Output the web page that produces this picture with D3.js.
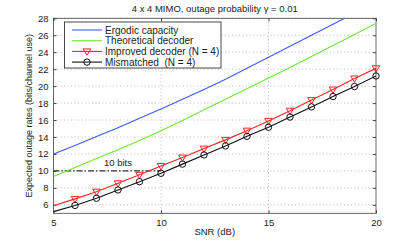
<!DOCTYPE html>
<html>
<head>
<meta charset="utf-8">
<script src="https://cdn.jsdelivr.net/npm/d3@7"></script>
<style>
  body { margin: 0; background: #fff; }
  svg { font-family: "Liberation Sans", Arial, sans-serif; }
  .grid line { stroke: #bbb; stroke-dasharray: 1,2.5; }
  text { white-space: pre; }
</style>
</head>
<body>
<div id="corpo"></div>
<script>
// values
var snr = [5, 6, 7, 8, 9, 10, 11, 12, 13, 14, 15, 16, 17, 18, 19, 20];
var ergodic = [12.0, 13.0, 14.05, 15.1, 16.2, 17.3, 18.45, 19.6, 20.8, 22.1, 23.4, 24.7, 26.0, 27.3, 28.6, 29.9];
var theoretical = [9.35, 10.4, 11.45, 12.5, 13.6, 14.75, 15.95, 17.2, 18.45, 19.7, 20.95, 22.2, 23.5, 24.8, 26.1, 27.4];
var improved = [5.9, 6.7, 7.55, 8.54, 9.55, 10.58, 11.58, 12.63, 13.66, 14.75, 15.9, 17.1, 18.35, 19.6, 20.9, 22.1];
var mismatched = [5.2, 5.93, 6.77, 7.75, 8.73, 9.72, 10.8, 11.88, 12.95, 14.08, 15.15, 16.35, 17.55, 18.77, 19.95, 21.2];
var xTicks = [5, 10, 15, 20];
var yTicks = [6, 8, 10, 12, 14, 16, 18, 20, 22, 24, 26, 28];
var refLevel = 10;   // "10 bits" line
var refSpan = [5, 10];

var series = [
  {name: "Ergodic capacity", vals: ergodic, color: "#3d5cff", marker: null},
  {name: "Theoretical decoder", vals: theoretical, color: "#6fe82a", marker: null},
  {name: "Improved decoder (N = 4)", vals: improved, color: "#ff2222", marker: "tri", from: 1},
  {name: "Mismatched  (N = 4)", vals: mismatched, color: "#111", marker: "circ", from: 1}
];

var width = 415, height = 242;
var pL = 53.5, pR = 376, pT = 18.3, pB = 213.3;
var fs = "9.5px";

var x = d3.scaleLinear().domain([5, 20]).range([pL, pR]);
var y = d3.scaleLinear().domain([5, 28]).range([pB, pT]);

var svg = d3.select("#corpo").append("svg")
    .attr("width", width)
    .attr("height", height);

svg.append("defs").append("clipPath").attr("id", "clip")
  .append("rect").attr("x", pL).attr("y", pT)
  .attr("width", pR - pL).attr("height", pB - pT);

// grid
var grid = svg.append("g").attr("class", "grid");
grid.selectAll(".gx").data(xTicks.slice(1, -1)).enter().append("line")
    .attr("x1", d => x(d)).attr("x2", d => x(d))
    .attr("y1", pT).attr("y2", pB);
grid.selectAll(".gy").data(yTicks).enter().append("line")
    .attr("x1", pL).attr("x2", pR)
    .attr("y1", d => y(d)).attr("y2", d => y(d));

// axes (matlab style: ticks inside, box all round)
svg.append("g")
    .attr("transform", "translate(0," + pB + ")")
    .call(d3.axisBottom(x).tickValues(xTicks).tickSizeInner(-3).tickSizeOuter(0).tickPadding(6))
    .call(g => g.select(".domain").remove());
svg.append("g")
    .attr("transform", "translate(0," + pT + ")")
    .call(d3.axisTop(x).tickValues(xTicks).tickSizeInner(-3).tickSizeOuter(0).tickFormat(""))
    .call(g => g.select(".domain").remove());
svg.append("g")
    .attr("transform", "translate(" + pL + ",0)")
    .call(d3.axisLeft(y).tickValues(yTicks).tickSizeInner(-3).tickSizeOuter(0).tickPadding(5))
    .call(g => g.select(".domain").remove());
svg.append("g")
    .attr("transform", "translate(" + pR + ",0)")
    .call(d3.axisRight(y).tickValues(yTicks).tickSizeInner(-3).tickSizeOuter(0).tickFormat(""))
    .call(g => g.select(".domain").remove());

svg.selectAll(".tick text").style("font-size", fs).style("fill", "#222")
    .style("font-family", "Liberation Sans, Arial, sans-serif");
svg.selectAll(".tick line").style("stroke", "#444");

svg.append("rect")
    .attr("x", pL).attr("y", pT)
    .attr("width", pR - pL).attr("height", pB - pT)
    .style("fill", "none").style("stroke", "#444").style("stroke-width", 0.8);

// 10 bits reference
svg.append("line")
    .attr("x1", x(refSpan[0])).attr("x2", x(refSpan[1]))
    .attr("y1", y(refLevel)).attr("y2", y(refLevel))
    .style("stroke", "#333").style("stroke-width", 1.1)
    .style("stroke-dasharray", "6,2,1.5,2");
svg.append("text")
    .attr("x", 104).attr("y", y(refLevel) - 5)
    .style("font-size", fs).style("fill", "#222")
    .text("10 bits");

// curves
var line = d3.line().x((d, i) => x(snr[i])).y(d => y(d));
var plot = svg.append("g").attr("clip-path", "url(#clip)");
series.forEach(function(s) {
  plot.append("path")
    .attr("d", line(s.vals))
    .style("fill", "none").style("stroke", s.color).style("stroke-width", 1.1);
});

function drawMarker(g, type, cx, cy, color) {
  if (type == "tri") {
    g.append("path")
      .attr("d", "M" + (cx - 3.8) + "," + (cy - 2.5) + "L" + (cx + 3.8) + "," + (cy - 2.5) + "L" + cx + "," + (cy + 3.8) + "Z")
      .style("fill", "none").style("stroke", color).style("stroke-width", 1);
  } else if (type == "circ") {
    g.append("circle").attr("cx", cx).attr("cy", cy).attr("r", 3.2)
      .style("fill", "none").style("stroke", color).style("stroke-width", 1);
  }
}

series.forEach(function(s) {
  if (!s.marker) return;
  s.vals.forEach(function(v, i) {
    if (i < s.from) return;
    drawMarker(svg, s.marker, x(snr[i]), y(v), s.color);
  });
});

// title and labels
svg.append("text")
    .attr("x", (pL + pR) / 2).attr("y", 12)
    .attr("text-anchor", "middle")
    .style("font-size", fs).style("fill", "#222")
    .text("4 x 4 MIMO, outage probability \u03b3 = 0.01");
svg.append("text")
    .attr("x", (pL + pR) / 2).attr("y", 234.5)
    .attr("text-anchor", "middle")
    .style("font-size", fs).style("fill", "#222")
    .text("SNR (dB)");
svg.append("text")
    .attr("transform", "translate(32," + ((pT + pB) / 2) + ") rotate(-90)")
    .attr("text-anchor", "middle")
    .style("font-size", "9px").style("fill", "#222")
    .text("Expected outage rates (bits/channel use)");

// legend
var lg = svg.append("g");
lg.append("rect")
    .attr("x", 64.5).attr("y", 22).attr("width", 156.5).attr("height", 46)
    .style("fill", "#fff").style("stroke", "#333").style("stroke-width", 0.9);
series.forEach(function(s, i) {
  var ly = 30 + i * 10.7;
  lg.append("line").attr("x1", 72).attr("x2", 102).attr("y1", ly).attr("y2", ly)
    .style("stroke", s.color).style("stroke-width", 1.1);
  if (s.marker) drawMarker(lg, s.marker, 87, ly, s.color);
  lg.append("text").attr("x", 105).attr("y", ly + 3.5)
    .style("font-size", "10px").style("fill", "#222")
    .text(s.name);
});
</script>
</body>
</html>
